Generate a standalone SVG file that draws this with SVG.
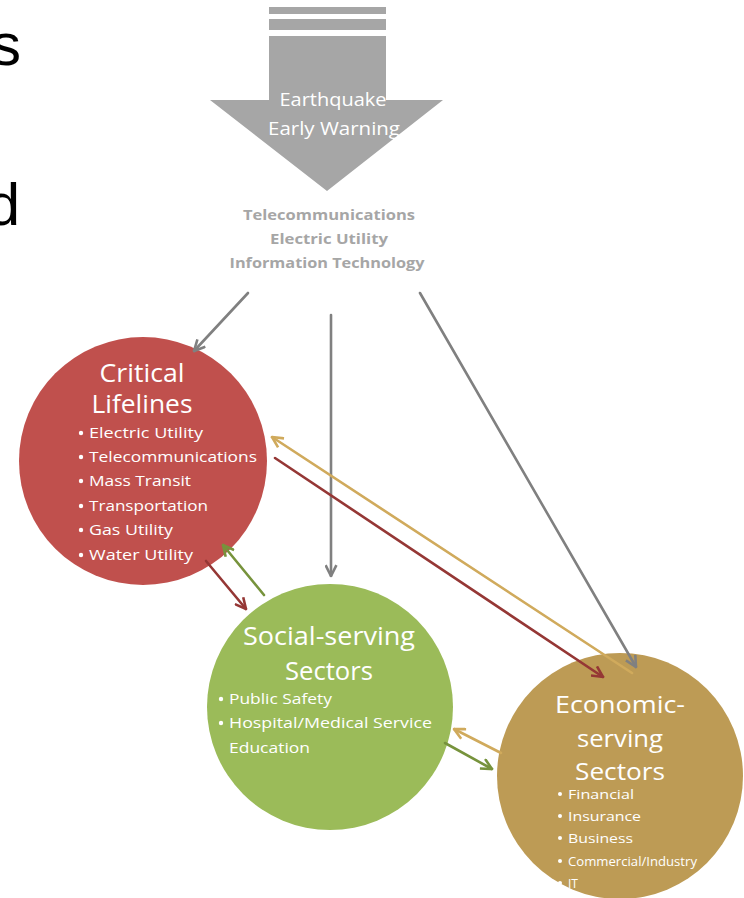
<svg xmlns="http://www.w3.org/2000/svg" width="744" height="898" viewBox="0 0 744 898">
  <style>
    .ttl { font-family: "Open Sans", "Noto Sans", sans-serif; fill: #ffffff; text-anchor: middle; }
    .itm { font-family: "Open Sans", "Noto Sans", sans-serif; fill: #ffffff; }
    .itm circle { fill: #ffffff; }
    .src { font-family: "Open Sans", "Noto Sans", sans-serif; font-weight: bold; fill: #a6a6a6; text-anchor: middle; font-size: 15px; }
    .ln { fill: none; stroke-width: 2.6; stroke-linecap: round; }
  </style>
  <defs>
    <marker id="ahGray" viewBox="0 0 12 12" refX="11" refY="6" markerWidth="13" markerHeight="13" markerUnits="userSpaceOnUse" orient="auto">
      <path d="M1,1 L11,6 L1,11" fill="none" stroke="#808080" stroke-width="2.4"/>
    </marker>
    <marker id="ahRed" viewBox="0 0 12 12" refX="11" refY="6" markerWidth="13" markerHeight="13" markerUnits="userSpaceOnUse" orient="auto">
      <path d="M1,1 L11,6 L1,11" fill="none" stroke="#953735" stroke-width="2.4"/>
    </marker>
    <marker id="ahGold" viewBox="0 0 12 12" refX="11" refY="6" markerWidth="13" markerHeight="13" markerUnits="userSpaceOnUse" orient="auto">
      <path d="M1,1 L11,6 L1,11" fill="none" stroke="#d0aa5c" stroke-width="2.4"/>
    </marker>
    <marker id="ahGreen" viewBox="0 0 12 12" refX="11" refY="6" markerWidth="13" markerHeight="13" markerUnits="userSpaceOnUse" orient="auto">
      <path d="M1,1 L11,6 L1,11" fill="none" stroke="#77933c" stroke-width="2.4"/>
    </marker>
  </defs>

  <rect width="744" height="898" fill="#ffffff"/>

  <!-- slide title letters cut by the left edge -->
  <g id="title-fragment" font-family="'Liberation Sans', Arial, sans-serif" font-size="60" fill="#000000" text-anchor="end">
    <text x="21" y="65">s</text>
    <text x="20" y="225">d</text>
  </g>

  <!-- striped block arrow -->
  <g id="early-warning">
    <rect x="269" y="7" width="117" height="7" fill="#a6a6a6"/>
    <rect x="269" y="19" width="117" height="11" fill="#a6a6a6"/>
    <polygon points="269,36 386,36 386,100 443,100 327,191 210,100 269,100" fill="#a6a6a6"/>
    <text class="ttl" x="333" y="106" font-size="18" fill="#f2f2f2" textLength="107" lengthAdjust="spacingAndGlyphs">Earthquake</text>
    <text class="ttl" x="334" y="135" font-size="18" fill="#f2f2f2" textLength="132" lengthAdjust="spacingAndGlyphs">Early Warning</text>
  </g>

  <g id="enablers">
    <text class="src" x="329" y="220" textLength="172" lengthAdjust="spacingAndGlyphs">Telecommunications</text>
    <text class="src" x="329" y="244" textLength="118" lengthAdjust="spacingAndGlyphs">Electric Utility</text>
    <text class="src" x="327" y="268" textLength="195" lengthAdjust="spacingAndGlyphs">Information Technology</text>
  </g>

  <g id="critical-lifelines">
    <circle cx="143" cy="461" r="124" fill="#c0504d"/>
    <text class="ttl" x="142" y="382" font-size="25" textLength="85" lengthAdjust="spacingAndGlyphs">Critical</text>
    <text class="ttl" x="142" y="413" font-size="25" textLength="101" lengthAdjust="spacingAndGlyphs">Lifelines</text>
    <g class="itm" font-size="15">
      <circle cx="81" cy="433" r="2.2"/><text x="89" y="438" textLength="114" lengthAdjust="spacingAndGlyphs">Electric Utility</text>
      <circle cx="81" cy="457" r="2.2"/><text x="89" y="462" textLength="168" lengthAdjust="spacingAndGlyphs">Telecommunications</text>
      <circle cx="81" cy="481" r="2.2"/><text x="89" y="486" textLength="102" lengthAdjust="spacingAndGlyphs">Mass Transit</text>
      <circle cx="81" cy="506" r="2.2"/><text x="89" y="511" textLength="119" lengthAdjust="spacingAndGlyphs">Transportation</text>
      <circle cx="81" cy="530" r="2.2"/><text x="89" y="535" textLength="84" lengthAdjust="spacingAndGlyphs">Gas Utility</text>
      <circle cx="81" cy="555" r="2.2"/><text x="89" y="560" textLength="104" lengthAdjust="spacingAndGlyphs">Water Utility</text>
    </g>
  </g>

  <g id="social-serving">
    <circle cx="330" cy="707" r="123" fill="#9bbb59"/>
    <text class="ttl" x="329" y="645" font-size="25" textLength="172" lengthAdjust="spacingAndGlyphs">Social-serving</text>
    <text class="ttl" x="329" y="680" font-size="25" textLength="88" lengthAdjust="spacingAndGlyphs">Sectors</text>
    <g class="itm" font-size="15">
      <circle cx="221" cy="699" r="2.2"/><text x="229" y="704" textLength="103" lengthAdjust="spacingAndGlyphs">Public Safety</text>
      <circle cx="221" cy="723" r="2.2"/><text x="229" y="728" textLength="203" lengthAdjust="spacingAndGlyphs">Hospital/Medical Service</text>
      <text x="229" y="753" textLength="81" lengthAdjust="spacingAndGlyphs">Education</text>
    </g>
  </g>

  <g id="economic-serving">
    <circle cx="620" cy="776" r="123" fill="#bd9b55"/>
    <text class="ttl" x="620" y="713" font-size="24" textLength="130" lengthAdjust="spacingAndGlyphs">Economic-</text>
    <text class="ttl" x="620" y="747" font-size="24" textLength="86" lengthAdjust="spacingAndGlyphs">serving</text>
    <text class="ttl" x="620" y="780" font-size="24" textLength="90" lengthAdjust="spacingAndGlyphs">Sectors</text>
    <g class="itm" font-size="13.5">
      <circle cx="560" cy="794" r="2"/><text x="568" y="799" textLength="66" lengthAdjust="spacingAndGlyphs">Financial</text>
      <circle cx="560" cy="816" r="2"/><text x="568" y="821" textLength="73" lengthAdjust="spacingAndGlyphs">Insurance</text>
      <circle cx="560" cy="838" r="2"/><text x="568" y="843" textLength="65" lengthAdjust="spacingAndGlyphs">Business</text>
      <circle cx="560" cy="861" r="2"/><text x="568" y="866" textLength="129" lengthAdjust="spacingAndGlyphs">Commercial/Industry</text>
      <circle cx="560" cy="883" r="2"/><text x="568" y="888" textLength="10" lengthAdjust="spacingAndGlyphs">IT</text>
    </g>
  </g>

  <g id="connectors">
    <line class="ln" x1="248" y1="293" x2="194" y2="351" stroke="#808080" marker-end="url(#ahGray)"/>
    <line class="ln" x1="331" y1="315" x2="331" y2="576" stroke="#808080" marker-end="url(#ahGray)"/>
    <line class="ln" x1="420" y1="293" x2="636" y2="667" stroke="#808080" marker-end="url(#ahGray)"/>
    <line class="ln" x1="275" y1="458" x2="603" y2="677" stroke="#953735" marker-end="url(#ahRed)"/>
    <line class="ln" x1="632" y1="673" x2="272" y2="437" stroke="#d0aa5c" marker-end="url(#ahGold)"/>
    <line class="ln" x1="206" y1="561" x2="246" y2="609" stroke="#953735" marker-end="url(#ahRed)"/>
    <line class="ln" x1="264" y1="595" x2="223" y2="545" stroke="#77933c" marker-end="url(#ahGreen)"/>
    <line class="ln" x1="501" y1="753" x2="454" y2="729" stroke="#d0aa5c" marker-end="url(#ahGold)"/>
    <line class="ln" x1="445" y1="743" x2="492" y2="769" stroke="#77933c" marker-end="url(#ahGreen)"/>
  </g>
</svg>
